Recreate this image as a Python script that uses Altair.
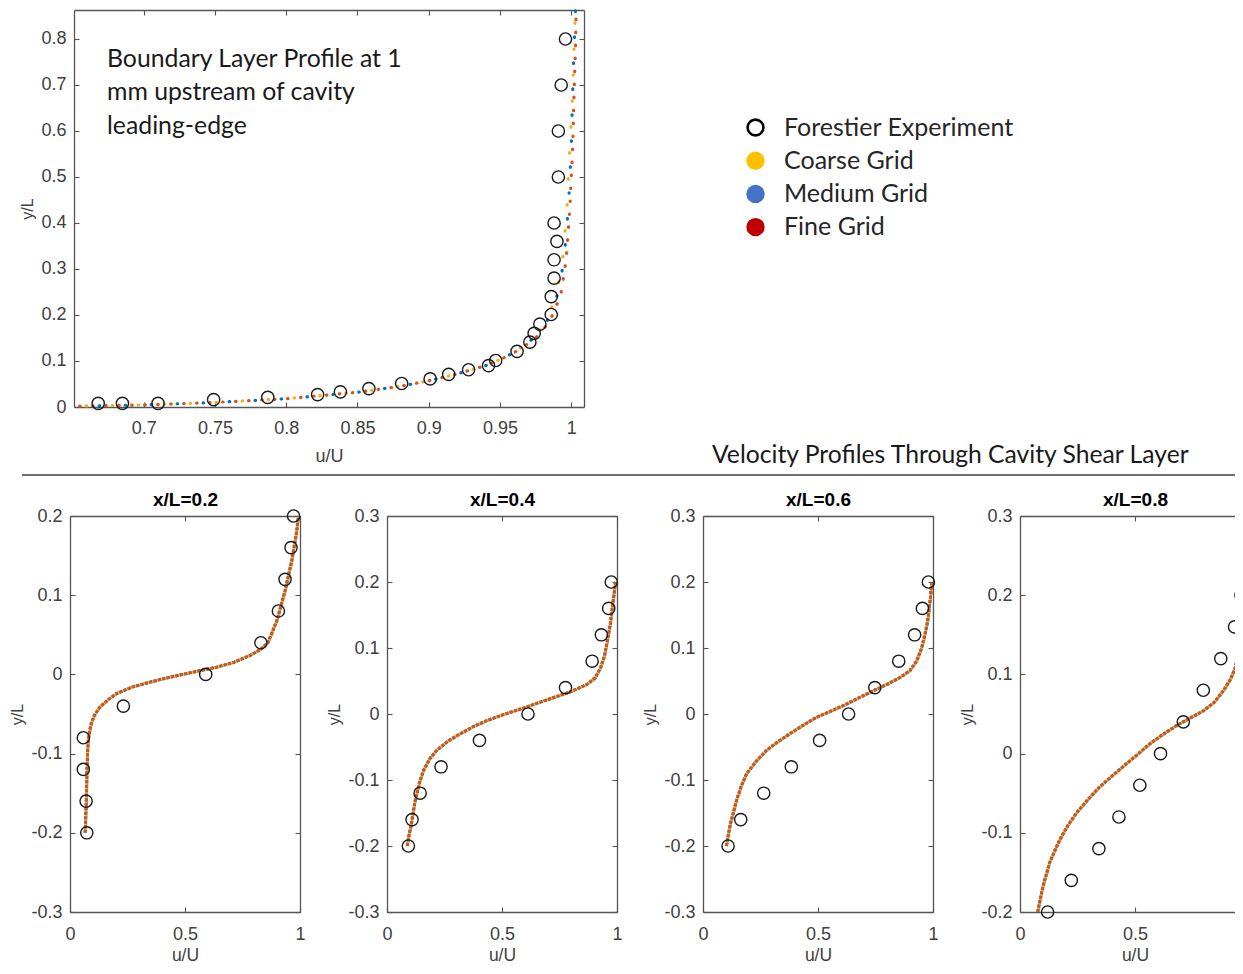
import altair as alt
import pandas as pd

# ============================ data ============================
legend_names = ["Forestier Experiment", "Coarse Grid", "Medium Grid", "Fine Grid"]
legend_fills = ["white", "#FFC000", "#4472C4", "#C00000"]
legend_strokes = ["#000000", "#FFC000", "#4472C4", "#C00000"]

grid_keys = ["coarse", "medium", "fine"]
grid_colors = ["#EDB120", "#0072BD", "#D95319"]

annotation_text = "Boundary Layer Profile at 1\nmm upstream of cavity\nleading-edge"
section_title = ["Velocity Profiles Through Cavity Shear Layer"]
panel_titles = ["x/L=0.2", "x/L=0.4", "x/L=0.6", "x/L=0.8"]
x_title = "u/U"
y_title = "y/L"

# ---- boundary layer profile (top panel) ----
bl_x_ticks = [0.7, 0.75, 0.8, 0.85, 0.9, 0.95, 1]
bl_y_ticks = [0, 0.1, 0.2, 0.3, 0.4, 0.5, 0.6, 0.7, 0.8]
bl_x_domain = [0.651, 1.009]
bl_y_domain = [0, 0.863]

bl_exp_u = [0.668, 0.685, 0.710, 0.749, 0.787, 0.822, 0.838, 0.858, 0.881, 0.901,
            0.914, 0.928, 0.942, 0.947, 0.962, 0.971, 0.974, 0.978, 0.986, 0.986,
            0.988, 0.988, 0.990, 0.988, 0.991, 0.991, 0.993, 0.996]
bl_exp_y = [0.008, 0.008, 0.008, 0.016, 0.021, 0.027, 0.033, 0.040, 0.051, 0.061,
            0.071, 0.081, 0.090, 0.101, 0.121, 0.141, 0.160, 0.180, 0.201, 0.240,
            0.280, 0.320, 0.360, 0.400, 0.500, 0.600, 0.700, 0.800]

bl_cfd_y = [0.002, 0.0045, 0.010, 0.018, 0.032, 0.045, 0.057, 0.072, 0.090, 0.110,
            0.127, 0.150, 0.175, 0.205, 0.250, 0.320, 0.430, 0.560, 0.680, 0.780, 0.862]
bl_coarse_u = [0.655, 0.700, 0.750, 0.800, 0.850, 0.880, 0.900, 0.920, 0.940, 0.955,
               0.964, 0.973, 0.980, 0.985, 0.990, 0.994, 0.997, 0.999, 1.001, 1.002, 1.003]
bl_medium_u = [0.655, 0.700, 0.750, 0.800, 0.850, 0.880, 0.900, 0.920, 0.940, 0.955,
               0.964, 0.974, 0.981, 0.986, 0.991, 0.995, 0.998, 1.000, 1.001, 1.002, 1.003]
bl_fine_u = [0.655, 0.700, 0.750, 0.800, 0.850, 0.880, 0.900, 0.920, 0.940, 0.955,
             0.965, 0.975, 0.982, 0.988, 0.993, 0.9965, 0.999, 1.001, 1.002, 1.003, 1.0035]

# ---- shear layer profiles (bottom panels) ----
sl_x_ticks = [[0, 0.5, 1], [0, 0.5, 1], [0, 0.5, 1], [0, 0.5]]
sl_x_domain = [0, 1]
sl_y_ticks = [[-0.3, -0.2, -0.1, 0, 0.1, 0.2],
              [-0.3, -0.2, -0.1, 0, 0.1, 0.2, 0.3],
              [-0.3, -0.2, -0.1, 0, 0.1, 0.2, 0.3],
              [-0.2, -0.1, 0, 0.1, 0.2, 0.3]]
sl_y_domains = [[-0.3, 0.2], [-0.3, 0.3], [-0.3, 0.3], [-0.2, 0.3]]

sl_exp_y = [-0.2, -0.16, -0.12, -0.08, -0.04, 0, 0.04, 0.08, 0.12, 0.16, 0.2]
sl_exp_u = [
    [0.073, 0.070, 0.058, 0.058, 0.232, 0.590, 0.830, 0.906, 0.935, 0.961, 0.972],
    [0.093, 0.109, 0.144, 0.235, 0.402, 0.613, 0.776, 0.892, 0.932, 0.964, 0.975],
    [0.109, 0.164, 0.264, 0.384, 0.507, 0.633, 0.747, 0.851, 0.920, 0.954, 0.980],
    [0.120, 0.223, 0.343, 0.430, 0.521, 0.611, 0.710, 0.797, 0.873, 0.933, 0.961],
]

sl_cfd_y = [
    [-0.200, -0.160, -0.120, -0.095, -0.080, -0.064, -0.052, -0.041, -0.032, -0.024,
     -0.016, -0.0097, -0.0045, 0.000, 0.0045, 0.0092, 0.015, 0.024, 0.032, 0.040,
     0.068, 0.106, 0.144, 0.181, 0.200],
    [-0.200, -0.185, -0.171, -0.131, -0.105, -0.0855, -0.068, -0.055, -0.041, -0.030,
     -0.019, -0.010, -0.001, 0.0075, 0.016, 0.025, 0.034, 0.045, 0.055, 0.070,
     0.088, 0.110, 0.135, 0.161, 0.182, 0.200],
    [-0.200, -0.183, -0.166, -0.131, -0.110, -0.0905, -0.072, -0.055, -0.042, -0.030,
     -0.017, -0.005, 0.005, 0.015, 0.025, 0.035, 0.045, 0.055, 0.066, 0.080,
     0.100, 0.120, 0.140, 0.160, 0.180, 0.198],
    [-0.200, -0.184, -0.168, -0.138, -0.123, -0.109, -0.092, -0.075, -0.058, -0.042,
     -0.027, -0.0126, 0.000, 0.0126, 0.024, 0.0356, 0.045, 0.054, 0.065, 0.080,
     0.094, 0.109, 0.142, 0.167, 0.190, 0.210],
]
sl_fine_u = [
    [0.066, 0.071, 0.074, 0.077, 0.080, 0.090, 0.105, 0.130, 0.165, 0.203,
     0.270, 0.348, 0.420, 0.490, 0.560, 0.638, 0.710, 0.783, 0.830, 0.860,
     0.899, 0.935, 0.964, 0.986, 0.993],
    [0.088, 0.095, 0.103, 0.122, 0.140, 0.158, 0.185, 0.216, 0.265, 0.318,
     0.375, 0.434, 0.505, 0.580, 0.650, 0.725, 0.800, 0.870, 0.905, 0.928,
     0.945, 0.957, 0.970, 0.979, 0.987, 0.993],
    [0.102, 0.110, 0.119, 0.145, 0.165, 0.189, 0.230, 0.276, 0.325, 0.377,
     0.435, 0.493, 0.560, 0.623, 0.680, 0.739, 0.800, 0.855, 0.900, 0.928,
     0.950, 0.964, 0.976, 0.983, 0.990, 0.994],
    [0.077, 0.088, 0.099, 0.128, 0.150, 0.172, 0.205, 0.245, 0.295, 0.346,
     0.405, 0.463, 0.515, 0.565, 0.620, 0.681, 0.740, 0.797, 0.845, 0.885,
     0.915, 0.936, 0.958, 0.972, 0.985, 0.993],
]
sl_medium_u = [
    [0.066, 0.071, 0.074, 0.077, 0.081, 0.091, 0.106, 0.131, 0.166, 0.204,
     0.271, 0.349, 0.421, 0.491, 0.561, 0.639, 0.711, 0.784, 0.831, 0.861,
     0.900, 0.936, 0.965, 0.986, 0.993],
    [0.088, 0.095, 0.104, 0.123, 0.141, 0.159, 0.186, 0.217, 0.266, 0.319,
     0.376, 0.435, 0.506, 0.581, 0.651, 0.726, 0.801, 0.871, 0.906, 0.929,
     0.946, 0.958, 0.971, 0.980, 0.988, 0.993],
    [0.102, 0.110, 0.120, 0.146, 0.166, 0.190, 0.231, 0.277, 0.326, 0.378,
     0.436, 0.494, 0.561, 0.624, 0.681, 0.740, 0.801, 0.856, 0.901, 0.929,
     0.951, 0.965, 0.977, 0.984, 0.990, 0.994],
    [0.077, 0.088, 0.100, 0.129, 0.151, 0.173, 0.206, 0.246, 0.296, 0.347,
     0.406, 0.464, 0.516, 0.566, 0.621, 0.682, 0.741, 0.798, 0.846, 0.886,
     0.916, 0.937, 0.959, 0.973, 0.986, 0.993],
]
sl_coarse_u = [
    [0.067, 0.072, 0.075, 0.078, 0.082, 0.092, 0.107, 0.132, 0.167, 0.205,
     0.272, 0.350, 0.422, 0.492, 0.562, 0.640, 0.712, 0.785, 0.832, 0.862,
     0.901, 0.937, 0.966, 0.987, 0.994],
    [0.089, 0.096, 0.105, 0.124, 0.142, 0.160, 0.187, 0.218, 0.267, 0.320,
     0.377, 0.436, 0.507, 0.582, 0.652, 0.727, 0.802, 0.872, 0.907, 0.930,
     0.947, 0.959, 0.972, 0.981, 0.988, 0.994],
    [0.103, 0.111, 0.121, 0.147, 0.167, 0.191, 0.232, 0.278, 0.327, 0.379,
     0.437, 0.495, 0.562, 0.625, 0.682, 0.741, 0.802, 0.857, 0.902, 0.930,
     0.952, 0.966, 0.978, 0.985, 0.991, 0.995],
    [0.078, 0.089, 0.101, 0.130, 0.152, 0.174, 0.207, 0.247, 0.297, 0.348,
     0.407, 0.465, 0.517, 0.567, 0.622, 0.683, 0.742, 0.799, 0.847, 0.887,
     0.917, 0.938, 0.960, 0.974, 0.987, 0.994],
]

# ============================ layout / style ============================
W, H = 1227, 958          # whole page minus the 8px margins
M = 8                     # reference pixel -> view pixel
FRAME = "#555555"
LABEL = "#404040"
FONT = "Liberation Sans"
TEXTFONT = "Lato"

# frames in reference pixels: left, right, top, bottom
bl_frame = (74, 584, 10, 407)
sl_frames = [(70, 300, 516, 912), (387, 617, 516, 912),
             (703, 933, 516, 912), (1020, 1250, 516, 912)]


def make_axes(frame, xticks, yticks, top_title, right, xlab_pad, xtit_pad, xtit_fs):
    l, r, t, b = [v - M for v in frame]
    common = dict(tickSize={"expr": "-5"}, tickColor=FRAME, tickWidth=1.1,
                  domainColor=FRAME, domainWidth=1.3, grid=False,
                  labelExpr="datum.value + ''", labelFlush=False,
                  labelOverlap=False, labelFont=FONT, labelFontSize=18,
                  labelColor=LABEL, titleFont=FONT, titleFontSize=18,
                  titleColor=LABEL, titleFontWeight="normal")
    bcommon = dict(common)
    bcommon.update(titleFontSize=xtit_fs)
    lcommon = dict(common)
    lcommon.update(titleFontSize=16)
    ax_b = alt.Axis(orient="bottom", values=xticks, offset=-(H - b), title=x_title,
                    labelPadding=xlab_pad, titlePadding=xtit_pad, **bcommon)
    ax_l = alt.Axis(orient="left", values=yticks, offset=-l, title=y_title,
                    labelPadding=13, titlePadding=5, **lcommon)
    top_kw = dict(common)
    top_kw.update(titleFontWeight="bold", titleColor="#000000", titleFontSize=19)
    if top_title is not None:
        ax_t = alt.Axis(orient="top", values=xticks, offset=-t, labels=False,
                        title=top_title, titlePadding=6, **top_kw)
    else:
        ax_t = alt.Axis(orient="top", values=xticks, offset=-t, labels=False,
                        title=None, **top_kw)
    ax_r = alt.Axis(orient="right", values=yticks, offset=-(W - r), labels=False,
                    title=None, **common) if right else None
    return ax_b, ax_l, ax_t, ax_r


def make_panel(frame, xdom, ydom, xticks, yticks, exp_u, exp_y, cfd_y, cfd_us,
               dashes, widths, caps, offsets, top_title=None, right=True,
               xlab_pad=16, xtit_pad=10, xtit_fs=18):
    l, r, t, b = [v - M for v in frame]
    xs = alt.Scale(domain=xdom, range=[l, r], nice=False, zero=False)
    ys = alt.Scale(domain=ydom, range=[b, t], nice=False, zero=False)
    ax_b, ax_l, ax_t, ax_r = make_axes(frame, xticks, yticks, top_title, right,
                                       xlab_pad, xtit_pad, xtit_fs)
    layers = []
    for k, (us, col) in enumerate(zip(cfd_us, grid_colors)):
        d = pd.DataFrame({"u": us, "y": cfd_y, "i": list(range(len(us)))})
        layers.append(
            alt.Chart(d).mark_line(color=col, strokeDash=dashes[k], strokeWidth=widths[k],
                                   strokeCap=caps[k], strokeDashOffset=offsets[k], clip=True)
            .encode(x=alt.X("u:Q", scale=xs, axis=None),
                    y=alt.Y("y:Q", scale=ys, axis=None),
                    order="i:Q"))
    e = pd.DataFrame({"u": exp_u, "y": exp_y})
    layers.append(
        alt.Chart(e).mark_point(shape="circle", filled=False, color="#1a1a1a", size=150,
                                strokeWidth=1.4, opacity=1, clip=True)
        .encode(x=alt.X("u:Q", scale=xs, axis=ax_b),
                y=alt.Y("y:Q", scale=ys, axis=ax_l)))
    if ax_r is not None:
        mirror = alt.Chart(e).mark_point(opacity=0).encode(
            x=alt.X("u:Q", scale=xs, axis=ax_t), y=alt.Y("y:Q", scale=ys, axis=ax_r))
    else:
        mirror = alt.Chart(e).mark_point(opacity=0).encode(
            x=alt.X("u:Q", scale=xs, axis=ax_t), y=alt.Y("y:Q", scale=ys, axis=None))
    layers.append(mirror)
    return alt.layer(*layers).resolve_axis(x="independent", y="independent")


# top panel: separated round dots
top_panel = make_panel(bl_frame, bl_x_domain, bl_y_domain, bl_x_ticks, bl_y_ticks,
                       bl_exp_u, bl_exp_y, bl_cfd_y,
                       [bl_coarse_u, bl_medium_u, bl_fine_u],
                       dashes=[[0.5, 25.5], [0.5, 25.5], [0.5, 12.5]],
                       widths=[3.2, 3.2, 3.2], caps=["round", "round", "round"],
                       offsets=[19.5, 6.5, 0], xlab_pad=17, xtit_pad=10)

bottom = []
for p in range(4):
    bottom.append(make_panel(sl_frames[p], sl_x_domain, sl_y_domains[p], sl_x_ticks[p],
                             sl_y_ticks[p], sl_exp_u[p], sl_exp_y, sl_cfd_y[p],
                             [sl_coarse_u[p], sl_medium_u[p], sl_fine_u[p]],
                             dashes=[[1.5, 3], [3, 1.5], [3, 1.5]],
                             widths=[3, 3, 3], caps=["butt", "butt", "butt"],
                             offsets=[1.5, 0, 0],
                             top_title=panel_titles[p], right=(p < 3),
                             xlab_pad=18, xtit_pad=3, xtit_fs=17.5))

# legend (drawn by Vega-Lite's legend machinery)
leg_df = pd.DataFrame({"name": legend_names})
leg_def = alt.Legend(orient="none", legendX=735, legendY=107, title=None,
                     symbolType="circle", symbolSize=250, symbolStrokeWidth=2.6,
                     symbolOpacity=1, labelFont=TEXTFONT, labelFontSize=25,
                     labelColor="#262626", labelOffset=16, rowPadding=6.2, padding=0,
                     labelLimit=400)
legend_layer = alt.Chart(leg_df).mark_point(shape="circle", opacity=0, size=10).encode(
    x=alt.value(-100), y=alt.value(-100),
    fill=alt.Fill("name:N", scale=alt.Scale(domain=legend_names, range=legend_fills),
                  legend=leg_def),
    stroke=alt.Stroke("name:N", scale=alt.Scale(domain=legend_names, range=legend_strokes),
                      legend=leg_def))

ann = alt.Chart(pd.DataFrame({"t": [annotation_text]})).mark_text(
    align="left", baseline="top", font=TEXTFONT, fontSize=24.8, lineHeight=33.3,
    lineBreak="\n", color="#1a1a1a").encode(
    text="t:N", x=alt.value(99), y=alt.value(39))

sec = alt.Chart(pd.DataFrame({"t": section_title})).mark_text(
    align="left", baseline="middle", font=TEXTFONT, fontSize=24.7, color="#1a1a1a").encode(
    text="t:N", x=alt.value(704), y=alt.value(448))

divider = alt.Chart(pd.DataFrame({"t": section_title})).mark_rule(
    color="#404040", strokeWidth=1.5).encode(
    x=alt.value(14), x2=alt.value(1230), y=alt.value(467))

chart = alt.layer(top_panel, *bottom, legend_layer, ann, sec, divider).resolve_scale(
    x="independent", y="independent").properties(
    width=W, height=H, autosize=alt.AutoSizeParams(type="none"), padding=0
).configure_view(stroke=None)

chart.save("out.html", embed_options={"renderer": "svg", "actions": False})
